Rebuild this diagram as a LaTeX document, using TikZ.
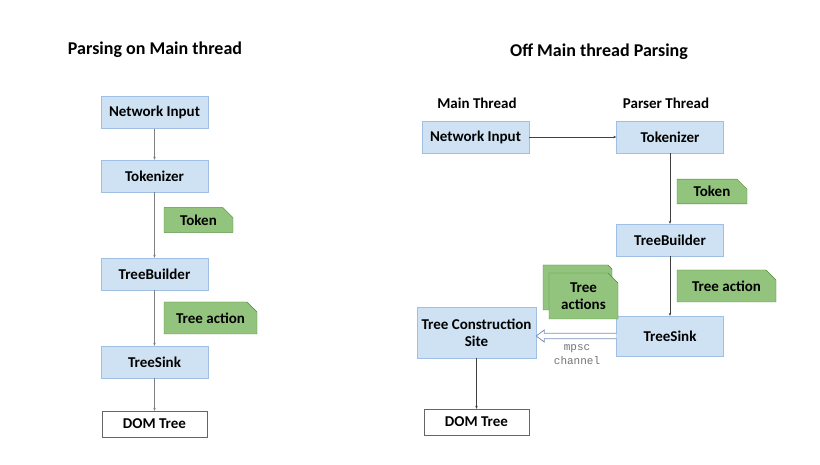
\documentclass[tikz,border=0pt]{standalone}
\usepackage{fontspec}
\setmainfont{Carlito}
\setmonofont{Liberation Mono}
\usetikzlibrary{shapes.misc,arrows.meta}

\definecolor{boxblue}{HTML}{CFE2F3}
\definecolor{boxline}{HTML}{9FBFE5}
\definecolor{taggreen}{HTML}{93C47D}
\definecolor{tagline}{HTML}{4E8A34}
\definecolor{chanline}{HTML}{7A92B8}

\begin{document}
\begin{tikzpicture}[
    x=1pt, y=1pt,
    box/.style={
        rectangle, draw=boxline, fill=boxblue,
        minimum width=107pt, minimum height=32pt,
        align=center, font=\bfseries\fontsize{15}{17}\selectfont
    },
    outbox/.style={
        rectangle, draw=black!60, fill=white,
        minimum width=105pt, minimum height=26pt,
        font=\bfseries\fontsize{15}{17}\selectfont
    },
    tag/.style={
        chamfered rectangle, chamfered rectangle corners=north east,
        chamfered rectangle xsep=5pt, chamfered rectangle ysep=5pt,
        draw=tagline, fill=taggreen, inner sep=2pt,
        align=center, font=\bfseries\fontsize{15}{17}\selectfont
    },
    title/.style={font=\bfseries\fontsize{18}{20}\selectfont},
    head/.style={font=\bfseries\fontsize{15}{17}\selectfont},
    arr/.style={-{Stealth[length=3pt,width=2.5pt]}, line width=0.5pt, black!50},
    darr/.style={-{Stealth[length=3pt,width=2.5pt]}, line width=0.5pt, black!75},
]
\useasboundingbox (0,0) rectangle (820,-465);

% Titles
\node[title] (ltitle) at (155,-50) {Parsing on Main thread};
\node[title] (rtitle) at (599,-52) {Off Main thread Parsing};
\node[head] (mainhead) at (477,-103) {Main Thread};
\node[head] (parsehead) at (666,-103) {Parser Thread};

% Left column
\node[box] (lnet) at (154.5,-112.5) {Network Input};
\node[box, below of=lnet, node distance=63.5pt] (ltok) {Tokenizer};
\node[box, below of=ltok, node distance=98pt] (lbuild) {TreeBuilder};
\node[box, below of=lbuild, node distance=88pt] (lsink) {TreeSink};
\node[outbox, below of=lsink, node distance=62pt] (ldom) {DOM Tree};
\node[tag, minimum width=69pt, minimum height=21pt] (ltoken) at (198.5,-220) {Token};
\node[tag, minimum width=93pt, minimum height=32pt] (laction) at (210.5,-318) {Tree action};

% Right column
\node[box] (rnet) at (475.5,-137) {Network Input};
\node[box, right of=rnet, node distance=194.5pt] (rtok) {Tokenizer};
\node[box, below of=rtok, node distance=103pt] (rbuild) {TreeBuilder};
\node[box, below of=rbuild, node distance=96pt, minimum height=40pt] (rsink) {TreeSink};
\node[box, minimum width=119pt, minimum height=51pt] (site) at (476.5,-332.5) {Tree Construction\\Site};
\node[outbox, below of=site, node distance=89.5pt] (rdom) {DOM Tree};
\node[tag, minimum width=70pt, minimum height=21pt] (rtoken) at (712,-191.5) {Token};
\node[tag, minimum width=99pt, minimum height=32pt] (raction) at (726.5,-286) {Tree action};
\node[tag, minimum width=69pt, minimum height=45pt] (actback) at (577.5,-287.5) {};
\node[tag, minimum width=69pt, minimum height=46pt] (actions) at (583.5,-296) {Tree\\actions};

% Arrows
\draw[arr] (lnet) -- (ltok);
\draw[arr] (ltok) -- (lbuild);
\draw[arr] (lbuild) -- (lsink);
\draw[arr] (lsink) -- (ldom);
\draw[darr] (rnet) -- (rtok);
\draw[darr] (rtok) -- (rbuild);
\draw[darr] (rbuild) -- (rsink);
\draw[darr] (site) -- (rdom);

% Channel (hollow arrow)
\coordinate (chanend) at (site.east |- rsink.west);
\draw[chanline, fill=white, line width=0.8pt]
    ([yshift=2.7pt]rsink.west) -- ([xshift=8pt,yshift=2.7pt]chanend)
    -- ([xshift=8pt,yshift=6pt]chanend) -- (chanend)
    -- ([xshift=8pt,yshift=-6pt]chanend) -- ([xshift=8pt,yshift=-2.7pt]chanend)
    -- ([yshift=-2.7pt]rsink.west);
\node[font=\ttfamily\fontsize{11}{14}\selectfont, text=black!55, align=center]
    (chan) at (577,-355) {mpsc\\channel};

\end{tikzpicture}
\end{document}
